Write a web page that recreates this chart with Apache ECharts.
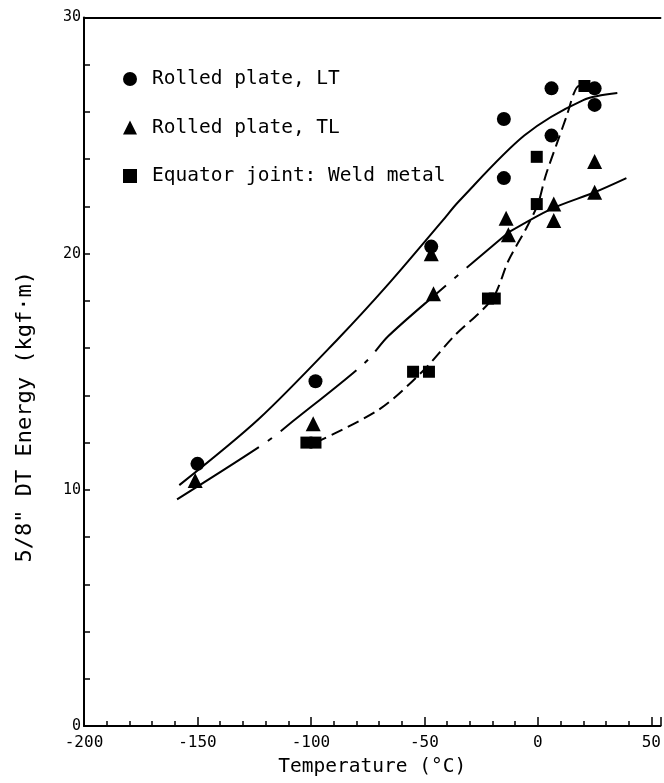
<!DOCTYPE html>
<html>
<head>
<meta charset="utf-8">
<script src="https://cdn.jsdelivr.net/npm/echarts@6/dist/echarts.min.js"></script>
<style>
  html, body { margin: 0; padding: 0; background: #fff; }
  #chart { width: 664px; height: 783px; }
</style>
</head>
<body>
<div id="chart"></div>
<script>
// measured points (temperature °C, energy kgf·m)
var ltX = [-150, -98, -47, -15, -15, 6, 6, 25, 25];
var ltY = [11.1, 14.6, 20.3, 25.7, 23.2, 27.0, 25.0, 27.0, 26.3];

var tlX = [-151, -99, -47, -46, -14, -13, 7, 7, 25, 25];
var tlY = [10.4, 12.8, 20.0, 18.3, 21.5, 20.8, 22.1, 21.4, 23.9, 22.6];

var weldX = [-102, -98, -55, -48, -22, -19, -0.5, -0.5, 20.5];
var weldY = [12.0, 12.0, 15.0, 15.0, 18.1, 18.1, 24.1, 22.1, 27.1];

// hand drawn trend curves
var ltCurveX = [-158, -123, -88, -66, -42, -35, -6, 20, 35];
var ltCurveY = [10.2, 13.0, 16.4, 18.7, 21.4, 22.2, 25.0, 26.5, 26.8];

var tlCurveX = [-159, -120, -108, -76, -66, -46, -13, 6, 25, 39];
var tlCurveY = [9.6, 12.0, 12.9, 15.4, 16.5, 18.2, 20.9, 21.9, 22.6, 23.2];
var tlBreak = 6; // dash-dot part ends here, solid after

var weldCurveX = [-98, -70, -51, -37, -20, -13, -5, 0, 3.4, 8.5, 12.9, 15.9, 18, 20.5];
var weldCurveY = [12.0, 13.4, 15.0, 16.5, 18.1, 19.7, 21.1, 22.1, 23.3, 24.7, 25.9, 26.8, 27.1, 27.1];

var names = ['Rolled plate, LT', 'Rolled plate, TL', 'Equator joint: Weld metal'];

var font = 'DejaVu Sans Mono';

function pairs(xs, ys) {
  return xs.map(function (x, i) { return [x, ys[i]]; });
}

var chart = echarts.init(document.getElementById('chart'));

var option = {
  animation: false,
  backgroundColor: '#fff',
  grid: {
    left: 84,
    top: 17.5,
    bottom: 57,
    right: 0
  },
  legend: {
    orient: 'vertical',
    left: 118,
    top: 64,
    itemWidth: 14,
    itemHeight: 14,
    itemGap: 28.5,
    selectedMode: false,
    textStyle: {
      fontFamily: font,
      fontSize: 19.5,
      lineHeight: 20,
      color: '#000',
      padding: [0, 0, 0, 10]
    },
    data: [
      { name: names[0], icon: 'circle' },
      { name: names[1], icon: 'triangle' },
      { name: names[2], icon: 'rect' }
    ]
  },
  xAxis: [
    {
      type: 'value',
      min: -200,
      max: 54,
      interval: 50,
      name: 'Temperature (°C)',
      nameLocation: 'middle',
      nameGap: 31,
      nameTextStyle: {
        fontFamily: font,
        fontSize: 19.5,
        color: '#000'
      },
      axisLine: { onZero: false, lineStyle: { color: '#000', width: 2 } },
      axisTick: { inside: true, length: 9, lineStyle: { color: '#000', width: 1.5 } },
      minorTick: { show: true, splitNumber: 5, length: 5, lineStyle: { color: '#000', width: 1.5 } },
      axisLabel: {
        fontFamily: font,
        fontSize: 16,
        color: '#000',
        margin: 9,
        showMaxLabel: false
      },
      splitLine: { show: false }
    },
    {
      // top frame line only
      type: 'value',
      position: 'top',
      min: -200,
      max: 54,
      axisLine: { onZero: false, lineStyle: { color: '#000', width: 2 } },
      axisTick: { show: false },
      axisLabel: { show: false },
      splitLine: { show: false }
    }
  ],
  yAxis: {
    type: 'value',
    min: 0,
    max: 30,
    interval: 10,
    name: '5/8" DT Energy (kgf·m)',
    nameLocation: 'middle',
    nameRotate: 90,
    nameGap: 48,
    nameTextStyle: {
      fontFamily: font,
      fontSize: 22,
      color: '#000',
      padding: [0, 90, 0, 0]
    },
    axisLine: { onZero: false, lineStyle: { color: '#000', width: 2 } },
    axisTick: { inside: true, length: 6, lineStyle: { color: '#000', width: 1.5 } },
    minorTick: { show: true, splitNumber: 5, length: 6, lineStyle: { color: '#000', width: 1.5 } },
    axisLabel: {
      fontFamily: font,
      fontSize: 15,
      color: '#000',
      margin: 3
    },
    splitLine: { show: false }
  },
  series: [
    {
      type: 'line',
      data: pairs(ltCurveX, ltCurveY),
      smooth: 0.3,
      symbol: 'none',
      lineStyle: { color: '#000', width: 2 },
      z: 2
    },
    {
      type: 'line',
      data: pairs(tlCurveX.slice(0, tlBreak + 1), tlCurveY.slice(0, tlBreak + 1)),
      smooth: 0.3,
      symbol: 'none',
      lineStyle: { color: '#000', width: 2, type: [97, 11, 5, 11] },
      z: 2
    },
    {
      type: 'line',
      data: pairs(tlCurveX.slice(tlBreak), tlCurveY.slice(tlBreak)),
      smooth: 0.3,
      symbol: 'none',
      lineStyle: { color: '#000', width: 2 },
      z: 2
    },
    {
      type: 'line',
      data: pairs(weldCurveX, weldCurveY),
      smooth: 0.3,
      symbol: 'none',
      lineStyle: { color: '#000', width: 2, type: [12, 6] },
      z: 2
    },
    {
      name: names[0],
      type: 'scatter',
      data: pairs(ltX, ltY),
      symbol: 'circle',
      symbolSize: 14,
      itemStyle: { color: '#000', opacity: 1 },
      z: 5
    },
    {
      name: names[1],
      type: 'scatter',
      data: pairs(tlX, tlY),
      symbol: 'triangle',
      symbolSize: 15,
      itemStyle: { color: '#000', opacity: 1 },
      z: 5
    },
    {
      name: names[2],
      type: 'scatter',
      data: pairs(weldX, weldY),
      symbol: 'rect',
      symbolSize: 12,
      itemStyle: { color: '#000', opacity: 1 },
      z: 5
    }
  ]
};

chart.setOption(option);
</script>
</body>
</html>
